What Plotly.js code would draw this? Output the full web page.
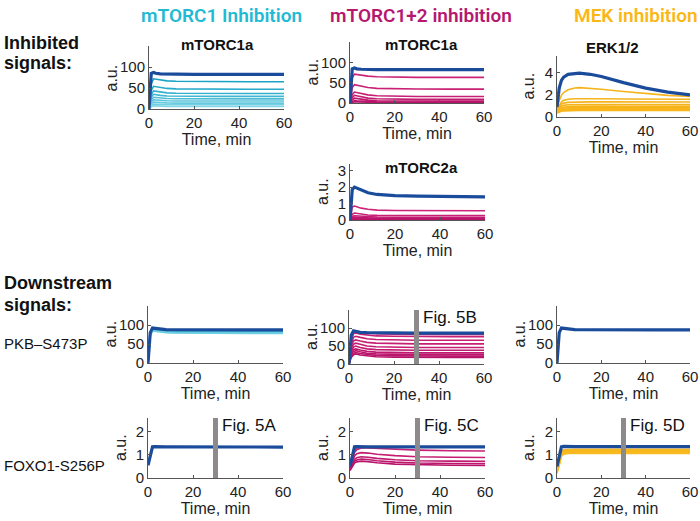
<!DOCTYPE html>
<html><head><meta charset="utf-8">
<script src="https://cdn.plot.ly/plotly-3.0.1.min.js"></script>
<style>html,body{margin:0;padding:0;background:#fff}#chart{width:700px;height:521px}</style>
</head><body><div id="chart"></div>
<script>
// ---------------- DATA ----------------
const columnHeaders = ['mTORC1 Inhibition', 'mTORC1+2 inhibition', 'MEK inhibition'];
const rowLabels = ['Inhibited', 'signals:', 'Downstream', 'signals:', 'PKB–S473P', 'FOXO1-S256P'];
const panelTitles = ['mTORC1a', 'mTORC1a', 'ERK1/2', 'mTORC2a'];
const xTicks = [0, 20, 40, 60];
const figLabels = ['Fig. 5A', 'Fig. 5B', 'Fig. 5C', 'Fig. 5D'];
const figTime = [30, 30, 30, 30];

// time grids (min)
const T = [0, 0.5, 1, 2, 3, 5, 8, 12, 20, 30, 45, 60];
const T_ERK = [0, 1, 2, 3, 5, 8, 10, 15, 20, 30, 40, 50, 60];

// mTORC1 inhibition – mTORC1a
const c1_mTORC1a_ctrl = [0, 55, 85, 87, 85, 83.5, 83, 82.5, 82.5, 82.5, 82.5, 82.5];
const c1_mTORC1a_inh = [
  [0, 30, 60, 72, 71, 69, 67, 66, 65.5, 65, 65, 65],
  [0, 22, 44, 54, 53, 51, 49, 48, 47.5, 47, 47, 47],
  [0, 17, 34, 43, 42, 40, 38.5, 37.5, 37, 37, 37, 37],
  [0, 14, 28, 35, 34, 32.5, 31, 30.5, 30, 30, 30, 30],
  [0, 11, 22, 28, 27.5, 26, 25, 24.5, 24, 24, 24, 24],
  [0, 9, 17, 22, 21.5, 20.5, 19.5, 19, 19, 19, 19, 19],
  [0, 7, 13, 16.5, 16, 15, 14.5, 14, 14, 14, 14, 14],
  [0, 5, 9, 12, 11.5, 11, 10.5, 10, 10, 10, 10, 10],
  [0, 3, 5.5, 7.5, 7, 6.6, 6.2, 6, 6, 6, 6, 6]
];
// mTORC1+2 inhibition – mTORC1a
const c2_mTORC1a_ctrl = [0, 55, 84, 86, 84, 83, 82, 82, 82, 82, 82, 82];
const c2_mTORC1a_inh = [
  [0, 30, 62, 71, 70, 68, 66, 64.5, 63.5, 63, 63, 63],
  [0, 18, 38, 45, 44, 41, 38, 36, 35, 34.5, 34, 34],
  [0, 10, 20, 27, 26, 23, 20, 18, 16.5, 16, 16, 16],
  [0, 6, 13, 19, 18, 15, 12, 10.5, 9.5, 9, 9, 9],
  [0, 4, 8, 12, 11, 9, 7, 5.5, 5, 4.5, 4.5, 4.5],
  [0, 2, 4, 6, 5.5, 4.5, 3.5, 2.8, 2.2, 2, 2, 2],
  [0, 1, 2, 3, 2.8, 2.2, 1.6, 1.3, 1.1, 1, 1, 1]
];
// MEK inhibition – ERK1/2
const c3_ERK_ctrl = [0.9, 2.6, 3.3, 3.6, 3.85, 3.95, 3.95, 3.85, 3.65, 3.1, 2.6, 2.25, 2.0];
const c3_ERK_inh = [
  [0.8, 1.5, 1.95, 2.2, 2.45, 2.62, 2.65, 2.6, 2.5, 2.3, 2.1, 1.95, 1.85],
  [0.7, 1.1, 1.35, 1.5, 1.6, 1.65, 1.66, 1.66, 1.65, 1.62, 1.6, 1.6, 1.6],
  [0.7, 1.0, 1.15, 1.25, 1.32, 1.35, 1.36, 1.36, 1.36, 1.35, 1.35, 1.35, 1.35],
  [0.6, 0.85, 0.98, 1.05, 1.1, 1.12, 1.13, 1.13, 1.13, 1.12, 1.12, 1.12, 1.12],
  [0.55, 0.75, 0.85, 0.9, 0.95, 0.97, 0.98, 0.98, 0.98, 0.97, 0.97, 0.97, 0.97],
  [0.5, 0.68, 0.76, 0.8, 0.84, 0.86, 0.87, 0.87, 0.87, 0.86, 0.86, 0.86, 0.86],
  [0.45, 0.6, 0.67, 0.71, 0.74, 0.76, 0.77, 0.77, 0.77, 0.76, 0.76, 0.76, 0.76],
  [0.4, 0.53, 0.59, 0.62, 0.65, 0.66, 0.67, 0.67, 0.67, 0.66, 0.66, 0.66, 0.66],
  [0.35, 0.47, 0.52, 0.55, 0.57, 0.58, 0.58, 0.58, 0.58, 0.58, 0.58, 0.58, 0.58]
];
// mTORC1+2 inhibition – mTORC2a
const c2_mTORC2a_ctrl = [0, 1.2, 1.85, 2.0, 1.95, 1.8, 1.65, 1.55, 1.48, 1.45, 1.42, 1.41];
const c2_mTORC2a_inh = [
  [0, 0.5, 0.78, 0.85, 0.8, 0.72, 0.65, 0.6, 0.58, 0.57, 0.56, 0.56],
  [0, 0.2, 0.35, 0.42, 0.4, 0.35, 0.3, 0.28, 0.27, 0.27, 0.27, 0.27],
  [0, 0.12, 0.22, 0.26, 0.25, 0.22, 0.19, 0.18, 0.17, 0.17, 0.17, 0.17],
  [0, 0.08, 0.14, 0.17, 0.16, 0.14, 0.12, 0.11, 0.11, 0.11, 0.11, 0.11],
  [0, 0.05, 0.08, 0.1, 0.1, 0.08, 0.07, 0.06, 0.06, 0.06, 0.06, 0.06],
  [0, 0.02, 0.04, 0.05, 0.05, 0.04, 0.035, 0.03, 0.03, 0.03, 0.03, 0.03]
];
// PKB-S473P
const c1_PKB_ctrl = [0, 45, 80, 92, 91, 89, 88, 87.5, 87, 87, 87, 87];
const c1_PKB_inh = [
  [0, 42, 77, 90, 89, 87, 86, 85, 84.5, 84, 84, 84],
  [0, 41, 76, 89, 88, 86, 85, 84, 83.5, 83, 83, 83],
  [0, 40, 75, 88, 87, 85, 84, 83, 82.5, 82, 82, 82],
  [0, 40, 74, 87, 86, 84, 83, 82, 81.5, 81, 81, 81],
  [0, 39, 73, 86, 85, 83, 82, 81, 80.5, 80, 80, 80],
  [0, 39, 72, 85, 84, 82, 81, 80, 79.5, 79, 79, 79],
  [0, 38, 71, 84, 83, 81, 80, 79, 78.5, 78, 78, 78]
];
const c2_PKB_ctrl = [0, 45, 80, 92, 90, 88, 87, 86.5, 86, 86, 86, 86];
const c2_PKB_inh = [
  [0, 35, 70, 88, 90, 88, 86, 84, 83, 82, 82, 82],
  [0, 32, 66, 84, 86, 83, 80, 78, 77, 76, 76, 76],
  [0, 28, 58, 74, 77, 74, 70, 68, 67, 66, 66, 66],
  [0, 24, 50, 64, 67, 64, 60, 58, 57, 56, 56, 56],
  [0, 20, 42, 55, 58, 55, 50, 48, 47, 46, 46, 46],
  [0, 17, 35, 47, 50, 46, 42, 40, 39, 38, 38, 38],
  [0, 14, 30, 40, 42, 39, 35, 33, 32, 31, 31, 31],
  [0, 12, 26, 35, 37, 34, 30, 28, 27, 26, 26, 26],
  [0, 10, 22, 30, 32, 29, 26, 24, 23, 22, 22, 22],
  [0, 8, 18, 26, 28, 25, 22, 20, 19, 18, 18, 18]
];
const c3_PKB_ctrl = [0, 45, 80, 92, 91, 89, 88, 87.5, 87, 87, 87, 87];
// FOXO1-S256P
const c1_FOXO_ctrl = [0.55, 0.75, 0.95, 1.35, 1.36, 1.35, 1.35, 1.35, 1.35, 1.35, 1.34, 1.34];
const c2_FOXO_ctrl = [0.5, 0.75, 1.0, 1.35, 1.36, 1.35, 1.35, 1.35, 1.35, 1.35, 1.35, 1.35];
const c2_FOXO_inh = [
  [0.5, 0.65, 0.85, 1.2, 1.3, 1.33, 1.33, 1.33, 1.33, 1.33, 1.33, 1.33],
  [0.45, 0.6, 0.8, 1.1, 1.22, 1.3, 1.3, 1.28, 1.25, 1.21, 1.18, 1.17],
  [0.4, 0.55, 0.7, 0.95, 1.05, 1.1, 1.08, 1.03, 0.97, 0.92, 0.9, 0.89],
  [0.38, 0.5, 0.62, 0.8, 0.88, 0.92, 0.9, 0.85, 0.79, 0.75, 0.73, 0.72],
  [0.35, 0.45, 0.55, 0.72, 0.78, 0.82, 0.8, 0.75, 0.69, 0.65, 0.63, 0.62],
  [0.32, 0.42, 0.5, 0.65, 0.7, 0.73, 0.71, 0.66, 0.6, 0.57, 0.55, 0.54]
];
const c3_FOXO_ctrl = [0.5, 0.75, 1.0, 1.35, 1.37, 1.36, 1.36, 1.36, 1.36, 1.36, 1.36, 1.36];
const c3_FOXO_inh = [
  [0.45, 0.6, 0.8, 1.15, 1.22, 1.24, 1.24, 1.24, 1.24, 1.24, 1.24, 1.24],
  [0.4, 0.55, 0.75, 1.1, 1.18, 1.21, 1.21, 1.21, 1.21, 1.21, 1.21, 1.21],
  [0.35, 0.5, 0.7, 1.06, 1.15, 1.18, 1.18, 1.18, 1.18, 1.18, 1.18, 1.18],
  [0.3, 0.45, 0.66, 1.03, 1.12, 1.15, 1.15, 1.15, 1.15, 1.15, 1.15, 1.15],
  [0.27, 0.42, 0.62, 1.0, 1.09, 1.12, 1.12, 1.12, 1.12, 1.12, 1.12, 1.12],
  [0.24, 0.38, 0.58, 0.97, 1.06, 1.09, 1.09, 1.09, 1.09, 1.09, 1.09, 1.09],
  [0.2, 0.35, 0.55, 0.94, 1.03, 1.06, 1.06, 1.06, 1.06, 1.06, 1.06, 1.06]
];

// ---------------- STYLE / LAYOUT ----------------
const W = 700, H = 521;
const BLUE = '#1b4c9c', CYAN = '#27b5d1', ORG = '#f6b41a';
const HDR = ['#1fbad3', '#b51870', '#fbb714'];
const FONT = 'Liberation Sans, Arial, Helvetica, sans-serif';
const FS_TICK = 15, FS_TITLE = 16;

function lerpColor(a, b, f) {
  const pa = [1,3,5].map(i => parseInt(a.substr(i,2),16));
  const pb = [1,3,5].map(i => parseInt(b.substr(i,2),16));
  return 'rgb(' + pa.map((v,i) => Math.round(v + (pb[i]-v)*f)).join(',') + ')';
}

// panel boxes in px: [left, right, top, bottom]
const panels = [
  {box:[149,284,46,109], yr:[0,150], yt:[0,50,100], t:T, ctrl:c1_mTORC1a_ctrl, inh:c1_mTORC1a_inh, col:['#1aa3c6','#7fd6e6'], title:0, tpos:[217,45], au:111},
  {box:[350,484,42,103], yr:[0,150], yt:[0,50,100], t:T, ctrl:c2_mTORC1a_ctrl, inh:c2_mTORC1a_inh, col:['#cc2378','#b8136a'], title:1, tpos:[421,45], au:312},
  {box:[557,690,56,117], yr:[0,5.5], yt:[0,2,4], t:T_ERK, ctrl:c3_ERK_ctrl, inh:c3_ERK_inh, col:['#f5b31c','#f8b61a'], title:2, tpos:[612,47], au:528},
  {box:[350,485,164,220], yr:[0,3.4], yt:[0,1,2,3], t:T, ctrl:c2_mTORC2a_ctrl, inh:c2_mTORC2a_inh, col:['#cc2378','#b8136a'], title:3, tpos:[421,167], au:322},
  {box:[148,283,306,363], yr:[0,150], yt:[0,50,100], t:T, ctrl:c1_PKB_ctrl, inh:c1_PKB_inh, col:['#1aa3c6','#6fd0e3'], au:110},
  {box:[349,484,310,364], yr:[0,150], yt:[0,50,100], t:T, ctrl:c2_PKB_ctrl, inh:c2_PKB_inh, col:['#cc2378','#b8136a'], au:311, fig:1},
  {box:[557,690,306,363], yr:[0,150], yt:[0,50,100], t:T, ctrl:c3_PKB_ctrl, inh:[], col:[ORG,ORG], au:519},
  {box:[148,283,418,478], yr:[0,2.6], yt:[0,1,2], t:T, ctrl:c1_FOXO_ctrl, inh:[], col:[CYAN,CYAN], au:120, fig:0},
  {box:[350,485,418,478], yr:[0,2.6], yt:[0,1,2], t:T, ctrl:c2_FOXO_ctrl, inh:c2_FOXO_inh, col:['#cc2378','#b8136a'], au:322, fig:2},
  {box:[557,690,418,478], yr:[0,2.6], yt:[0,1,2], t:T, ctrl:c3_FOXO_ctrl, inh:c3_FOXO_inh, col:['#f7b51c','#f9bb22'], au:528, fig:3}
];

const traces = [], layout = {
  width: W, height: H, margin: {l:0, r:0, t:0, b:0},
  paper_bgcolor: '#fff', plot_bgcolor: 'rgba(0,0,0,0)',
  showlegend: false, font: {family: FONT, size: FS_TICK, color: '#222'},
  annotations: [], shapes: []
};

panels.forEach((p, i) => {
  const n = i === 0 ? '' : String(i + 1);
  const [l, r, t, b] = p.box;
  layout['xaxis' + n] = {
    domain: [l / W, r / W], range: [0, 60], tickvals: xTicks, anchor: 'y' + n,
    showline: true, linecolor: '#555', linewidth: 1, ticks: 'inside', ticklen: 3, tickcolor: '#555',
    showgrid: false, zeroline: false, automargin: false, fixedrange: true,
    tickfont: {family: FONT, size: FS_TICK, color: '#222'},
    title: {text: 'Time, min', font: {family: FONT, size: FS_TITLE, color: '#222'}, standoff: 2}
  };
  layout['yaxis' + n] = {
    domain: [1 - b / H, 1 - t / H], range: p.yr, tickvals: p.yt, anchor: 'x' + n,
    showline: true, linecolor: '#555', linewidth: 1, ticks: 'inside', ticklen: 3, tickcolor: '#555',
    showgrid: false, zeroline: false, automargin: false, fixedrange: true,
    tickfont: {family: FONT, size: FS_TICK, color: '#222'}
  };
  layout.annotations.push({text: 'a.u.', xref: 'paper', yref: 'paper', x: p.au / W, y: 1 - ((t + b) / 2) / H,
    textangle: -90, showarrow: false, font: {family: FONT, size: FS_TITLE, color: '#222'}, xanchor: 'center', yanchor: 'middle'});
  const k = p.inh.length;
  p.inh.forEach((s, j) => {
    traces.push({x: p.t, y: s, xaxis: 'x' + n, yaxis: 'y' + n, mode: 'lines', hoverinfo: 'skip',
      line: {color: lerpColor(p.col[0], p.col[1], k > 1 ? j / (k - 1) : 0), width: 1.6}});
  });
  traces.push({x: p.t, y: p.ctrl, xaxis: 'x' + n, yaxis: 'y' + n, mode: 'lines', hoverinfo: 'skip',
    line: {color: BLUE, width: 3.2}});
  if (p.title !== undefined) {
    layout.annotations.push({text: '<b>' + panelTitles[p.title] + '</b>', xref: 'paper', yref: 'paper',
      x: p.tpos[0] / W, y: 1 - p.tpos[1] / H, showarrow: false, xanchor: 'center', yanchor: 'middle',
      font: {family: FONT, size: 15, color: '#111'}});
  }
  if (p.fig !== undefined) {
    layout.shapes.push({type: 'line', xref: 'x' + n, yref: 'y' + n + ' domain', x0: figTime[p.fig], x1: figTime[p.fig],
      y0: 0, y1: 1, line: {color: '#8e8a8c', width: 5}, layer: 'above'});
    layout.annotations.push({text: figLabels[p.fig], xref: 'x' + n, yref: 'paper', x: figTime[p.fig],
      xshift: 4, y: 1 - (t + 7) / H, showarrow: false, xanchor: 'left', yanchor: 'middle',
      font: {family: FONT, size: 17, color: '#111'}});
  }
});

// column headers
const hdrX = [222, 421, 636];
columnHeaders.forEach((h, i) => layout.annotations.push({text: h, xref: 'paper', yref: 'paper',
  x: hdrX[i] / W, y: 1 - 15 / H, showarrow: false, xanchor: 'center', yanchor: 'middle',
  font: {family: 'Roboto, Open Sans, sans-serif', size: 19, color: HDR[i], weight: 600}}));

// row labels
const rowY = [43, 63, 283, 305, 343, 465];
rowLabels.forEach((s, i) => layout.annotations.push({text: i < 4 ? '<b>' + s + '</b>' : s, xref: 'paper', yref: 'paper',
  x: 2 / W, y: 1 - rowY[i] / H, showarrow: false, xanchor: 'left', yanchor: 'middle',
  font: {family: FONT, size: i < 4 ? 18 : 15, color: '#111'}}));

Plotly.newPlot('chart', traces, layout, {staticPlot: true, displayModeBar: false});
</script></body></html>
